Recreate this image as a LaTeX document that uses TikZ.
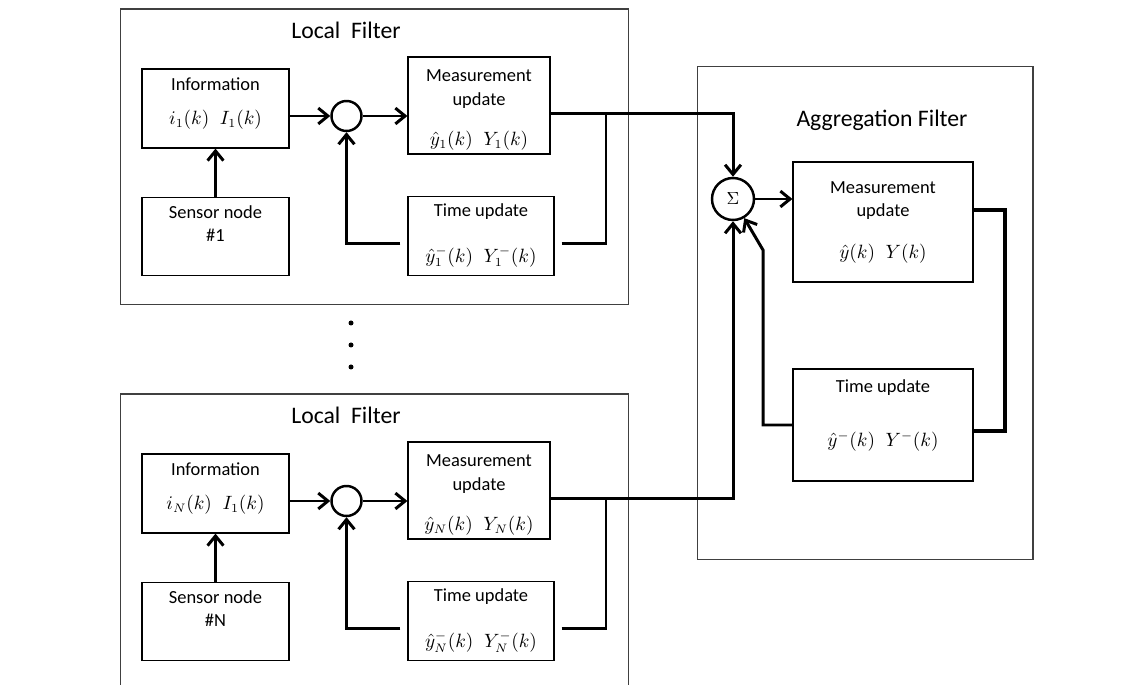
\documentclass[tikz,border=0pt]{standalone}
\usepackage{fontspec}
\setmainfont{Carlito}
\usetikzlibrary{arrows.meta,positioning}
\tikzset{
every picture/.style={
line width=1.7pt
}}
\tikzset{
>={Straight Barb[length=5.5pt,width=9pt]},
filterbox/.style={draw=black!75, line width=0.6pt, inner sep=0pt},
ftitle/.style={font=\fontsize{13.5}{16}\selectfont},
block/.style={draw, line width=0.7pt, align=center, inner sep=2pt,
  font=\fontsize{10.5}{13.5}\selectfont},
junc/.style={draw, circle, line width=1.4pt, inner sep=0pt},
loopline/.style={line width=2.3pt}
}
\begin{document}
\begin{tikzpicture}[x=0.02cm, y=-0.02cm]
\useasboundingbox (0,0) rectangle (1140,685);
\clip (0,0) rectangle (1140,685);

% the local filters, #1 on top and #N below
\foreach \n/\dy in {1/0, N/385} {
\begin{scope}[shift={(0,\dy)}]
\node [filterbox, minimum width=10.18cm, minimum height=5.92cm] (lf\n) at (374.5,157) {};
\node [ftitle] (lft\n) at (346,30) {Local~ Filter};
\node [block, minimum width=2.94cm, minimum height=1.58cm] (info\n) at (215.5,108.5) {Information\\[5.8pt] $i_{\n}(k)\;\;I_1(k)$\\[-5.3pt]\mbox{}};
\node [block, minimum width=2.94cm, minimum height=1.56cm, below=0.96cm of info\n] (sens\n) {Sensor node\\\#\n\\[1pt]\mbox{}};
\node [junc, minimum size=0.6cm] (sum\n) at (346.5,116) {};
\node [block, minimum width=2.84cm, minimum height=1.94cm] (meas\n) at (479,105.5) {Measurement\\update\\[9pt] $\hat{y}_{\n}(k)\;\;Y_{\n}(k)$\\[-16pt]\mbox{}};
\node [block, minimum width=2.92cm, minimum height=1.58cm, below=0.82cm of meas\n.south west, anchor=north west] (time\n) {Time update\\[12.5pt] $\hat{y}^-_{\n}(k)\;\;Y^-_{\n}(k)$};
\coordinate (j\n) at (606,113.5);

\draw [->] (sens\n) -- (info\n);
\draw [->] (info\n.east |- sum\n) -- (sum\n);
\draw [->] (sum\n) -- (sum\n -| meas\n.west);
\draw [->, shorten <=4pt] ([yshift=-0.15cm]time\n.west) -| (sum\n);
\draw [shorten <=4pt] ([yshift=-0.15cm]time\n.east) -| (j\n);
\end{scope}
}

% dots between the two
\foreach \y in {323,345,367} \fill (351,\y) circle [radius=0.05cm];

% aggregation filter
\node [filterbox, minimum width=6.72cm, minimum height=9.88cm] (af) at (865,313) {};
\node [ftitle] (aft) at (882,120) {Aggregation Filter};
\node [junc, minimum size=0.84cm] (sigma) at (733,199) {$\Sigma$};
\node [block, minimum width=3.6cm, minimum height=2.4cm] (ameas) at (883,222) {Measurement\\update\\[10pt] $\hat{y}(k)\;\;Y(k)$};
\node [block, minimum width=3.6cm, minimum height=2.24cm] (atime) at (883,425) {Time update\\[17pt] $\hat{y}^-(k)\;\;Y^-(k)$\\[0pt]\mbox{}};
\coordinate (fb) at (763,250);

\draw [->] ([yshift=-0.16cm]meas1.east) -| (sigma);
\draw [->] ([yshift=-0.16cm]measN.east) -| (sigma);
\draw [->] (sigma) -- (sigma -| ameas.west);
\draw [loopline] ([yshift=0.24cm]ameas.east) -- ++(31,0) |- ([yshift=-0.12cm]atime.east);
\draw [->] (atime.west) -| (fb) -- (sigma);

\end{tikzpicture}
\end{document}
